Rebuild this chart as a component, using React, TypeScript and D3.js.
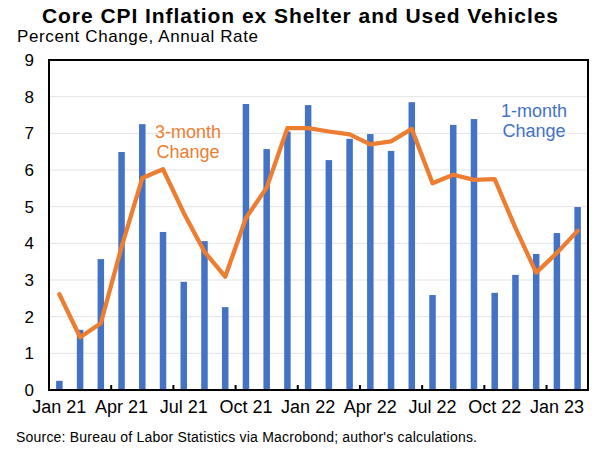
import React from "react";
import * as d3 from "d3";

const months = [
  "Jan 21","Feb 21","Mar 21","Apr 21","May 21","Jun 21","Jul 21","Aug 21","Sep 21","Oct 21","Nov 21","Dec 21",
  "Jan 22","Feb 22","Mar 22","Apr 22","May 22","Jun 22","Jul 22","Aug 22","Sep 22","Oct 22","Nov 22","Dec 22",
  "Jan 23","Feb 23",
];
const oneMonth = [
  0.25, 1.64, 3.57, 6.49, 7.25, 4.31, 2.95, 4.06, 2.26, 7.8, 6.57, 7.05,
  7.77, 6.27, 6.85, 6.98, 6.52, 7.85, 2.59, 7.23, 7.39, 2.65, 3.14, 3.71,
  4.28, 4.99,
];
const threeMonth = [
  2.61, 1.44, 1.82, 3.9, 5.78, 6.02, 4.83, 3.77, 3.09, 4.69, 5.52, 7.14,
  7.14, 7.05, 6.97, 6.7, 6.78, 7.12, 5.64, 5.87, 5.73, 5.75, 4.42, 3.2,
  3.74, 4.34,
];
const yTicks = [0, 1, 2, 3, 4, 5, 6, 7, 8, 9];
const xLabelMonths = ["Jan 21","Apr 21","Jul 21","Oct 21","Jan 22","Apr 22","Jul 22","Oct 22","Jan 23"];

const W = 600, H = 450;
const M = { left: 49, right: 588, top: 60, bottom: 390 };
const BLUE = "#4472C4";
const ORANGE = "#ED7D31";
const FONT = "Arial, 'Liberation Sans', sans-serif";

export default function App() {
  const x = d3.scaleBand<string>().domain(months).range([M.left, M.right]).padding(0);
  const y = d3.scaleLinear().domain([0, 9]).range([M.bottom, M.top]);
  const bw = 6.5;
  const cx = (m: string) => (x(m) as number) + x.bandwidth() / 2;
  const line = d3
    .line<number>()
    .x((_, i) => cx(months[i]))
    .y((d) => y(d))
    .curve(d3.curveLinear);

  const tickIdx = d3.range(3, months.length, 3);

  return (
    <svg width={W} height={H} style={{ position: "absolute", left: 0, top: 0, background: "#fff" }} fontFamily={FONT}>
      <rect x={0} y={0} width={W} height={H} fill="#fff" />
      <text x={42} y={23} fontSize={21} fontWeight="bold" fill="#000" textLength={516} lengthAdjust="spacing">
        Core CPI Inflation ex Shelter and Used Vehicles
      </text>
      <text x={17} y={42} fontSize={17} fill="#000" textLength={241} lengthAdjust="spacing">
        Percent Change, Annual Rate
      </text>
      {yTicks.filter((t) => t > 0 && t < 9).map((t) => (
        <line key={"g" + t} x1={M.left} x2={M.right} y1={y(t)} y2={y(t)} stroke="#e3e3e3" strokeWidth={1} />
      ))}
      {yTicks.map((t) => (
        <text key={"yt" + t} x={34} y={y(t) + 6} textAnchor="end" fontSize={17} fill="#000">
          {t}
        </text>
      ))}
      {oneMonth.map((v, i) => (
        <rect key={"b" + i} x={cx(months[i]) - bw / 2} y={y(v)} width={bw} height={y(0) - y(v)} fill={BLUE} />
      ))}
      <path d={line(threeMonth) || ""} fill="none" stroke={ORANGE} strokeWidth={4.3} strokeLinejoin="round" strokeLinecap="round" />
      <rect x={M.left} y={M.top} width={M.right - M.left} height={M.bottom - M.top} fill="none" stroke="#000" strokeWidth={2} />
      {tickIdx.map((i) => (
        <line key={"t" + i} x1={x(months[i]) as number} x2={x(months[i]) as number} y1={M.bottom} y2={M.bottom - 5} stroke="#000" strokeWidth={2} />
      ))}
      {xLabelMonths.map((m) => (
        <text key={"xl" + m} x={cx(m)} y={413} textAnchor="middle" fontSize={18} fill="#000">
          {m}
        </text>
      ))}
      <text x={188} y={138} textAnchor="middle" fontSize={18} fill={ORANGE}>3-month</text>
      <text x={188} y={158} textAnchor="middle" fontSize={18} fill={ORANGE}>Change</text>
      <text x={534} y={117} textAnchor="middle" fontSize={18} fill={BLUE}>1-month</text>
      <text x={534} y={137} textAnchor="middle" fontSize={18} fill={BLUE}>Change</text>
      <text x={16} y={442} fontSize={14} fill="#000" textLength={461} lengthAdjust="spacing">
        Source: Bureau of Labor Statistics via Macrobond; author's calculations.
      </text>
    </svg>
  );
}
